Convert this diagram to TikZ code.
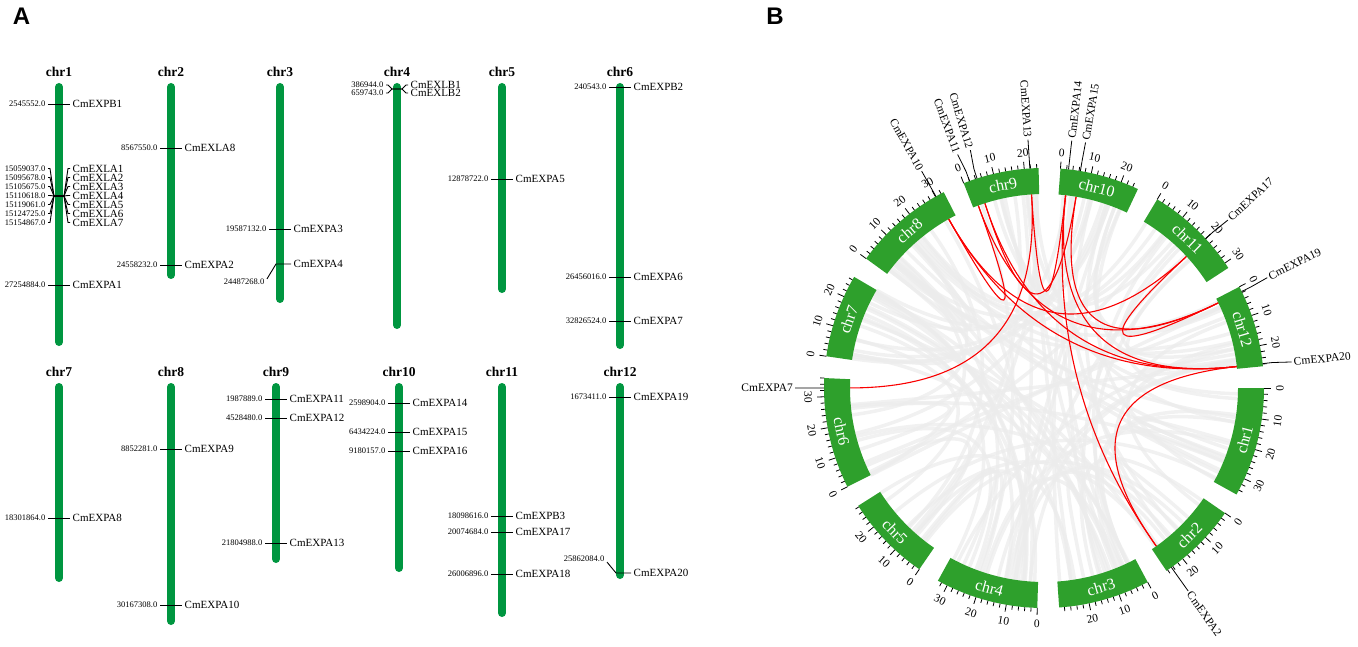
\documentclass[tikz,border=0pt]{standalone}
\usepackage{fontspec}
\setmainfont{Liberation Serif}
\newfontfamily\panelfont{Liberation Sans}
\definecolor{barg}{RGB}{0,150,64}
\definecolor{bandg}{RGB}{46,160,44}
\definecolor{linkg}{RGB}{236,236,236}
\definecolor{linkr}{RGB}{250,0,0}
\def\sc{0.8132}\def\Rin{194}\def\Rout{220}\def\Rmid{207}\def\Rc{64.7}
\def\rmin{224}\def\rmaj{227}\def\rlab{236}\def\rga{230}\def\rgb{249}
\def\starts{{0,-34.65,-61.90,-91.75,-124.53,-153.32,-188.30,-216.04,-248.58,-274.29,-300.97,-332.61}}
\def\lens{{35.6,26.5,29.7,33.3,28.4,36.0,27.1,33.0,24.6,25.8,31.9,26.7}}
\begin{document}
\begin{tikzpicture}[x=1pt,y=-1pt,
  panel/.style={font=\panelfont\bfseries\fontsize{24}{24}\selectfont, inner sep=0pt},
  chrlab/.style={font=\bfseries\fontsize{13.5}{14}\selectfont, inner sep=0pt},
  bar/.style={line width=8pt, line cap=round, barg},
  numlab/.style={font=\fontsize{8.5}{9}\selectfont, inner xsep=2.5pt, inner ysep=0pt},
  genelab/.style={font=\fontsize{11}{12}\selectfont, inner xsep=2.5pt, inner ysep=0pt},
  markline/.style={line width=0.9pt, black},
  graylink/.style={line width=3.5pt, linkg, opacity=0.75},
  redlink/.style={line width=1.1pt, linkr},
  tick/.style={line width=0.8pt, black},
  ticklab/.style={font=\fontsize{11.5}{12}\selectfont, inner sep=0pt},
  bandlab/.style={font=\fontsize{16}{16}\selectfont, white, inner sep=0pt},
  glab/.style={font=\fontsize{11.5}{12}\selectfont, inner xsep=2pt, inner ysep=0pt}]
\useasboundingbox (0,0) rectangle (1358,647);

\node[panel] (labA) at (21.5,16) {A};
\node[panel] (labB) at (775,16) {B};

% ---------- panel A ----------
\foreach \n/\x/\yt/\yb in {1/59/83/346, 2/171/83/279, 3/280/83/303, 4/397/83/329, 5/502/83/293, 6/620/83/349, 7/59/383/582, 8/171/383/625, 9/276/383/563, 10/399/383/572, 11/502/383/617, 12/620/383/579} {
  \node[chrlab] (chr\n) at (\x,\yt-11) {chr\n};
  \draw[bar] (\x,\yt+4) -- (\x,\yb-4);
}

\foreach \x/\y/\num/\gn [count=\i] in {59/104/2545552.0/CmEXPB1, 59/285/27254884.0/CmEXPA1, 171/148/8567550.0/CmEXLA8, 171/265/24558232.0/CmEXPA2, 280/229/19587132.0/CmEXPA3, 502/179/12878722.0/CmEXPA5, 620/87/240543.0/CmEXPB2, 620/277/26456016.0/CmEXPA6, 620/321/32826524.0/CmEXPA7, 59/518/18301864.0/CmEXPA8, 171/449/8852281.0/CmEXPA9, 171/605/30167308.0/CmEXPA10, 276/399/1987889.0/CmEXPA11, 276/418/4528480.0/CmEXPA12, 276/543/21804988.0/CmEXPA13, 399/403/2598904.0/CmEXPA14, 399/432/6434224.0/CmEXPA15, 399/451/9180157.0/CmEXPA16, 502/516/18098616.0/CmEXPB3, 502/532/20074684.0/CmEXPA17, 502/574/26006896.0/CmEXPA18, 620/397/1673411.0/CmEXPA19} {
  \node[numlab, anchor=east] (n\i) at (\x-11,\y) {\num};
  \node[genelab, anchor=west] (g\i) at (\x+11,\y) {\gn};
  \draw[markline] (n\i.east) -- (g\i.west);
}

% chr1 cluster
\foreach \y/\num/\gn [count=\i] in {168.5/15059037.0/CmEXLA1, 177.5/15095678.0/CmEXLA2, 186.5/15105675.0/CmEXLA3, 195.5/15110618.0/CmEXLA4, 204.5/15119061.0/CmEXLA5, 213.5/15124725.0/CmEXLA6, 222.5/15154867.0/CmEXLA7} {
  \node[numlab, anchor=east] (cn\i) at (48,\y) {\num};
  \node[genelab, anchor=west] (cg\i) at (70,\y) {\gn};
  \draw[markline] (cn\i.east) -- (50,\y) -- (54,196) -- (64,196) -- (68,\y) -- (cg\i.west);
}

% chr4 cluster
\foreach \y/\num/\gn [count=\i] in {85/386944.0/CmEXLB1, 93/659743.0/CmEXLB2} {
  \node[numlab, anchor=east] (bn\i) at (386,\y) {\num};
  \node[genelab, anchor=west] (bg\i) at (408,\y) {\gn};
  \draw[markline] (bn\i.east) -- (388,\y) -- (392,89) -- (402,89) -- (406,\y) -- (bg\i.west);
}

% kinked markers
\node[numlab, anchor=east] (k1n) at (267,282) {24487268.0};
\node[genelab, anchor=west] (k1g) at (291,264) {CmEXPA4};
\draw[markline] (k1n.north east) -- (276,264) -- (k1g.west);
\node[numlab, anchor=east] (k2n) at (607,559) {25862084.0};
\node[genelab, anchor=west] (k2g) at (631,573) {CmEXPA20};
\draw[markline] (k2n.south east) -- (616,573) -- (k2g.west);

% ---------- panel B ----------
\begin{scope}[shift={(1044,388)}]
\pgfmathsetseed{7}
\foreach \j in {1,...,100} {
  \pgfmathrandominteger{\ca}{0}{11}
  \pgfmathrandominteger{\cb}{0}{11}
  \pgfmathsetmacro\aa{\starts[\ca]-rnd*\lens[\ca]*\sc}
  \pgfmathsetmacro\bb{\starts[\cb]-rnd*\lens[\cb]*\sc}
  \draw[graylink] (\aa:\Rin pt) .. controls (\aa:\Rc pt) and (\bb:\Rc pt) .. (\bb:\Rin pt);
}

\foreach \a/\b in {-240.57/-250.20, -240.57/-317.29, -240.57/-353.64, -250.20/-333.97, -252.26/-353.64, -252.26/-279.52, -180.02/-266.31, -276.40/-54.62, -353.64/-54.62, -317.29/-333.97, -276.40/-353.64, -279.52/-333.97, -266.31/-276.40} {
  \draw[redlink] (\a:\Rin pt) .. controls (\a:\Rc pt) and (\b:\Rc pt) .. (\b:\Rin pt);
}

\foreach \n/\st/\len in {1/0/35.6, 2/-34.65/26.5, 3/-61.90/29.7, 4/-91.75/33.3, 5/-124.53/28.4, 6/-153.32/36.0, 7/-188.30/27.1, 8/-216.04/33.0, 9/-248.58/24.6, 10/-274.29/25.8, 11/-300.97/31.9, 12/-332.61/26.7} {
  \pgfmathsetmacro\en{\st-\len*\sc}
  \fill[bandg] (\st:\Rin pt) arc[start angle=\st, end angle=\en, radius=\Rin pt] -- (\en:\Rout pt) arc[start angle=\en, end angle=\st, radius=\Rout pt] -- cycle;
  \pgfmathsetmacro\md{(\st+\en)/2}
  \pgfmathsetmacro\mn{mod(\md+720,360)}
  \pgfmathsetmacro\rt{ifthenelse(\mn<180,\mn-90,\mn+90)}
  \node[bandlab, rotate=\rt] (band\n) at (\md:\Rmid pt) {chr\n};
  \pgfmathtruncatemacro\nt{floor(\len/2)}
  \foreach \k in {0,...,\nt} {
    \pgfmathtruncatemacro\mb{2*\k}
    \pgfmathsetmacro\th{\st-\mb*\sc}
    \pgfmathtruncatemacro\ismaj{mod(\mb,10)==0 ? 1 : 0}
    \ifnum\ismaj=1
      \draw[tick] (\th:\Rout pt) -- (\th:\rmaj pt);
      \pgfmathsetmacro\tn{mod(\th+720,360)}
      \pgfmathsetmacro\tr{ifthenelse(\tn<180,\tn-90,\tn+90)}
      \node[ticklab, rotate=\tr] (t\n-\mb) at (\th:\rlab pt) {\mb};
    \else
      \draw[tick] (\th:\Rout pt) -- (\th:\rmin pt);
    \fi
  }
}

\foreach \tg/\tl/\gn [count=\i] in {-240.57/-240.57/CmEXPA10, -250.20/-249.7/CmEXPA11, -252.26/-252.8/CmEXPA12, -266.31/-266.31/CmEXPA13, -276.40/-276.40/CmEXPA14, -279.52/-279.6/CmEXPA15, -317.29/-317.6/CmEXPA17, -333.97/-333.7/CmEXPA19, -353.64/-354.0/CmEXPA20, -180.02/-180.0/CmEXPA7, -54.62/-54.62/CmEXPA2} {
  \pgfmathsetmacro\tn{mod(\tl+720,360)}
  \pgfmathtruncatemacro\lft{(\tn>90)&&(\tn<270) ? 1 : 0}
  \ifnum\lft=1
    \node[glab, rotate=\tn+180, anchor=east] (bl\i) at (\tl:\rgb pt) {\gn};
    \draw[tick] (\tg:\Rout pt) -- (\tg:\rga pt) -- (bl\i.east);
  \else
    \node[glab, rotate=\tn, anchor=west] (bl\i) at (\tl:\rgb pt) {\gn};
    \draw[tick] (\tg:\Rout pt) -- (\tg:\rga pt) -- (bl\i.west);
  \fi
}
\end{scope}
\end{tikzpicture}
\end{document}
